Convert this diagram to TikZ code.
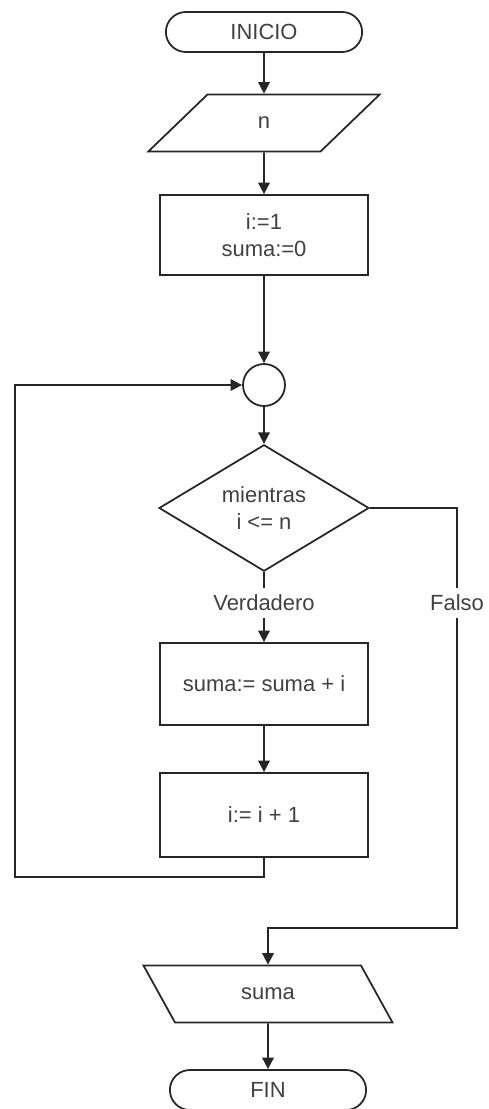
\documentclass[tikz,border=0pt]{standalone}
\usepackage{fontspec}
\setmainfont{Liberation Sans}
\usetikzlibrary{arrows.meta,positioning,shapes.geometric,shapes.misc}

\begin{document}
\begin{tikzpicture}[
  x=0.02cm,y=-0.02cm,
  line width=1pt,color=black!85,
  >={Triangle[length=6.5pt,width=6.5pt]},
  every node/.style={font=\fontsize{12.5}{15}\selectfont,text=black!75},
  terminal/.style={rounded rectangle,draw,minimum width=4.16cm,minimum height=0.8cm},
  caja/.style={rectangle,draw,minimum width=4.16cm,align=center},
  datos/.style={trapezium,draw,trapezium stretches=true,minimum width=4.64cm,minimum height=1.14cm},
  flecha/.style={->}
]
  \useasboundingbox (0,0) rectangle (489,1109);

  \node[terminal] (inicio) at (264,32) {INICIO};
  \node[datos,trapezium left angle=62,trapezium right angle=118] (leer) at (264,123) {n};
  \node[caja,minimum height=1.6cm] (inic) at (264,235) {i:=1\\suma:=0};
  \node[circle,draw,minimum size=0.84cm,inner sep=0pt] (union) at (264,385) {};
  \node[diamond,draw,minimum width=4.2cm,minimum height=2.4cm,inner sep=0pt,align=center] (mientras) at (264,508) {mientras\\i <= n};
  \node (verd) at (264,603) {Verdadero};
  \node (falso) at (457,603) {Falso};
  \node[caja,minimum height=1.64cm] (sumar) at (264,684) {suma:= suma + i};
  \node[caja,minimum height=1.68cm] (incr) at (264,815) {i:= i + 1};
  \node[datos,minimum width=5cm,trapezium left angle=115,trapezium right angle=65] (escribir) at (268,994) {suma};
  \node[terminal] (fin) at (268,1090) {FIN};

  % retornos
  \coordinate (retA) at (15,877);
  \coordinate (retB) at (457,928);

  \draw[flecha] (inicio) -- (leer);
  \draw[flecha] (leer) -- (inic);
  \draw[flecha] (inic) -- (union);
  \draw[flecha] (union) -- (mientras);
  \draw (mientras) -- (verd);
  \draw[flecha] (verd) -- (sumar);
  \draw[flecha] (sumar) -- (incr);
  \draw[flecha] (incr.south) |- (retA) |- (union.west);
  \draw (mientras.east) -| (falso.north);
  \draw[flecha] (falso.south) -- (retB) -| (escribir.north);
  \draw[flecha] (escribir) -- (fin);
\end{tikzpicture}
\end{document}
